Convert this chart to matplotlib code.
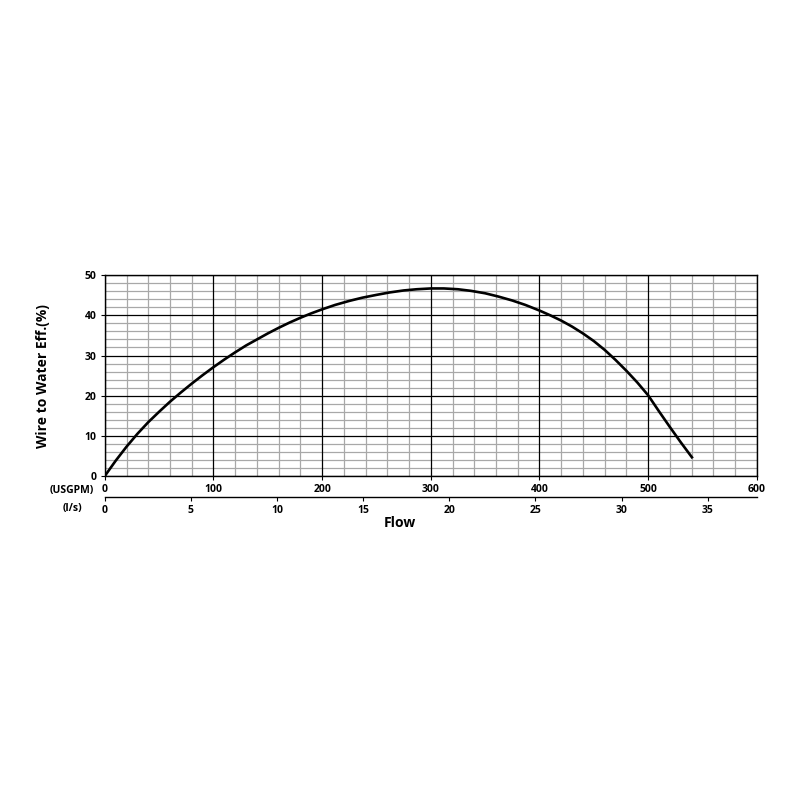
import matplotlib
matplotlib.use("Agg")
import matplotlib.pyplot as plt
from matplotlib.ticker import MultipleLocator

# Data
flow_gpm = [0, 10, 20, 30, 40, 50, 60, 70, 80, 90, 100, 110, 120, 130, 140,
            150, 160, 170, 180, 190, 200, 212, 225, 237, 250, 262, 275, 287,
            300, 312, 325, 337, 350, 362, 375, 387, 400, 410, 420, 430, 440,
            450, 460, 470, 480, 490, 500, 510, 520, 530, 541]
efficiency = [0, 3.8, 7.3, 10.5, 13.4, 16.0, 18.5, 20.8, 23.0, 25.1, 27.1,
              29.0, 30.8, 32.5, 34.0, 35.5, 36.9, 38.2, 39.4, 40.5, 41.5,
              42.6, 43.6, 44.4, 45.1, 45.7, 46.2, 46.5, 46.7, 46.7, 46.5,
              46.1, 45.5, 44.7, 43.7, 42.6, 41.2, 40.0, 38.7, 37.2, 35.5,
              33.6, 31.4, 28.9, 26.2, 23.3, 20.1, 16.1, 12.2, 8.4, 4.4]
gpm_ticks = [0, 100, 200, 300, 400, 500, 600]
lps_ticks = [0, 5, 10, 15, 20, 25, 30, 35]
eff_ticks = [0, 10, 20, 30, 40, 50]
GPM_PER_LPS = 15.850

plt.rcParams['font.family'] = ['Open Sans', 'DejaVu Sans']
plt.rcParams['font.weight'] = 'bold'

fig = plt.figure(figsize=(8, 8), dpi=100)
ax = fig.add_axes([0.131, 0.405, 0.815, 0.251])

ax.set_xlim(0, 600)
ax.set_ylim(0, 50)
ax.set_xticks(gpm_ticks)
ax.set_yticks(eff_ticks)
ax.xaxis.set_minor_locator(MultipleLocator(20))
ax.yaxis.set_minor_locator(MultipleLocator(2))
ax.grid(which='minor', color='#a8a8a8', lw=0.9)
ax.set_axisbelow(True)

# major grid drawn on top of the minor grid
ax.vlines(gpm_ticks, 0, 50, colors='black', lw=0.9, zorder=2)
ax.hlines(eff_ticks, 0, 600, colors='black', lw=0.9, zorder=2)

ax.plot(flow_gpm, efficiency, color='black', lw=1.9, solid_capstyle='butt',
        solid_joinstyle='round', zorder=5)

for s in ax.spines.values():
    s.set_linewidth(1.0)
    s.set_color('black')

ax.tick_params(which='major', length=3, width=0.8, pad=3, labelsize=7.5)
ax.tick_params(which='minor', length=0)
for lbl in ax.get_xticklabels() + ax.get_yticklabels():
    lbl.set_fontweight('bold')

ax.set_ylabel('Wire to Water Eff.(%)', fontsize=10, fontweight='bold', labelpad=25)

sec = ax.secondary_xaxis(-0.105, functions=(lambda g: g / GPM_PER_LPS,
                                            lambda l: l * GPM_PER_LPS))
sec.set_xticks(lps_ticks)
sec.tick_params(length=3, width=0.8, pad=3, labelsize=7.5)
sec.spines['bottom'].set_linewidth(1.0)
for lbl in sec.get_xticklabels():
    lbl.set_fontweight('bold')

fig.text(0.09, 1 - 490 / 800, '(USGPM)', ha='center', va='center',
         fontsize=7.5, fontweight='bold')
fig.text(0.09, 1 - 509 / 800, '(l/s)', ha='center', va='center',
         fontsize=7.5, fontweight='bold')
fig.text(0.50, 1 - 523 / 800, 'Flow', ha='center', va='center',
         fontsize=10, fontweight='bold')

fig.savefig('out.png', dpi=100, facecolor='white')
